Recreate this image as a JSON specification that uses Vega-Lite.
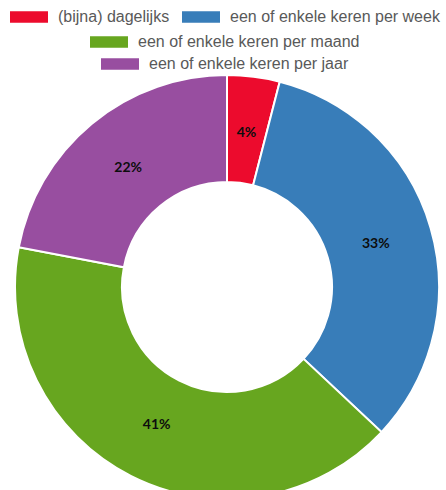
{
  "$schema": "https://vega.github.io/schema/vega-lite/v6.json",
  "width": 438,
  "height": 406,
  "autosize": "none",
  "padding": {"left": 8, "top": 84, "right": 0, "bottom": 0},
  "background": "white",
  "data": {"values": [
    {"cat": "(bijna) dagelijks", "value": 4, "idx": 1, "label": "4%"},
    {"cat": "een of enkele keren per week", "value": 33, "idx": 2, "label": "33%"},
    {"cat": "een of enkele keren per maand", "value": 41, "idx": 3, "label": "41%"},
    {"cat": "een of enkele keren per jaar", "value": 22, "idx": 4, "label": "22%"}
  ]},
  "transform": [
    {"stack": "value", "groupby": [], "sort": [{"field": "idx", "order": "ascending"}], "as": ["v0", "v1"]}
  ],
  "layer": [
    {
      "transform": [{"filter": "datum.idx <= 2"}],
      "mark": {"type": "arc", "outerRadius": 212, "innerRadius": 105, "stroke": "white", "strokeWidth": 2},
      "encoding": {
        "theta": {"field": "v0", "type": "quantitative", "scale": {"domain": [0, 100]}},
        "theta2": {"field": "v1"},
        "color": {
          "field": "cat", "type": "nominal",
          "scale": {"domain": ["(bijna) dagelijks", "een of enkele keren per week"], "range": ["#EC0B2D", "#387DB9"]},
          "legend": {"orient": "none", "legendX": 2, "legendY": -86, "direction": "horizontal", "title": null}
        }
      }
    },
    {
      "transform": [{"filter": "datum.idx == 3"}],
      "mark": {"type": "arc", "outerRadius": 212, "innerRadius": 105, "stroke": "white", "strokeWidth": 2},
      "encoding": {
        "theta": {"field": "v0", "type": "quantitative", "scale": {"domain": [0, 100]}},
        "theta2": {"field": "v1"},
        "color": {
          "field": "cat", "type": "nominal",
          "scale": {"domain": ["een of enkele keren per maand"], "range": ["#67A61F"]},
          "legend": {"orient": "none", "legendX": 82, "legendY": -61, "direction": "horizontal", "title": null}
        }
      }
    },
    {
      "transform": [{"filter": "datum.idx == 4"}],
      "mark": {"type": "arc", "outerRadius": 212, "innerRadius": 105, "stroke": "white", "strokeWidth": 2},
      "encoding": {
        "theta": {"field": "v0", "type": "quantitative", "scale": {"domain": [0, 100]}},
        "theta2": {"field": "v1"},
        "color": {
          "field": "cat", "type": "nominal",
          "scale": {"domain": ["een of enkele keren per jaar"], "range": ["#984EA0"]},
          "legend": {"orient": "none", "legendX": 93, "legendY": -39, "direction": "horizontal", "title": null}
        }
      }
    },
    {
      "mark": {"type": "text", "radius": 155, "font": "Lato", "fontWeight": "bold", "fontSize": 14, "color": "#0d0d0d"},
      "encoding": {
        "theta": {"field": "value", "type": "quantitative", "stack": true},
        "order": {"field": "idx", "type": "quantitative"},
        "text": {"field": "label"}
      }
    }
  ],
  "resolve": {"scale": {"color": "independent"}, "legend": {"color": "independent"}},
  "config": {
    "view": {"stroke": null},
    "legend": {
      "symbolType": "M-1,-0.3H1V0.3H-1Z",
      "symbolSize": 1444,
      "symbolStrokeWidth": 0,
      "symbolOpacity": 1,
      "labelFont": "Liberation Sans",
      "labelFontSize": 16,
      "labelColor": "#595959",
      "labelOffset": 10,
      "labelLimit": 400,
      "columnPadding": 12,
      "padding": 0
    }
  }
}
